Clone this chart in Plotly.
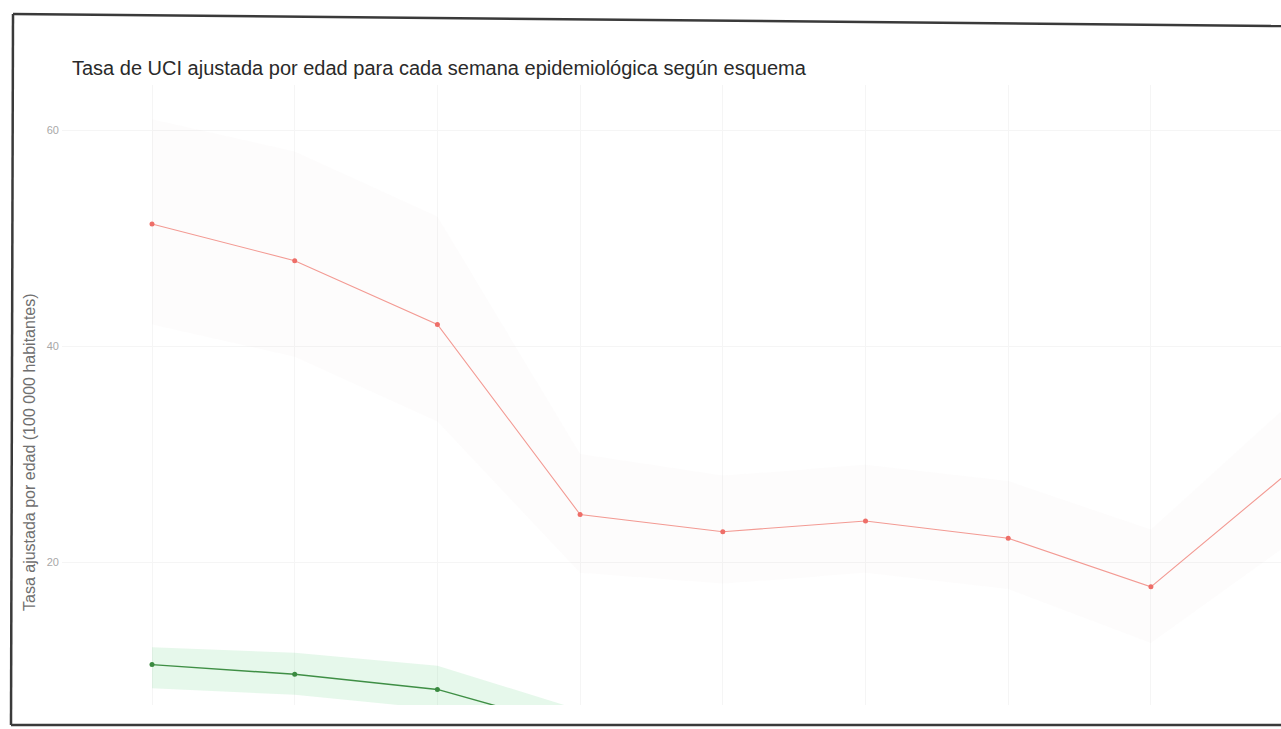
import plotly.graph_objects as go

# ---- data ----
semanas = [1, 2, 3, 4, 5, 6, 7, 8, 9]

tasa_sin = [51.3, 47.9, 42.0, 24.4, 22.8, 23.8, 22.2, 17.7, 28.7]
sin_sup = [61.0, 58.0, 52.0, 30.0, 28.0, 29.0, 27.5, 23.0, 35.0]
sin_inf = [42.0, 39.0, 33.0, 19.0, 18.0, 19.0, 17.5, 12.5, 22.0]

tasa_com = [10.5, 9.6, 8.2, 4.5]
com_sup = [12.1, 11.6, 10.4, 6.3]
com_inf = [8.3, 7.7, 6.4, 3.0]
semanas_com = semanas[:4]

y_ticks = [20, 40, 60]

titulo = "Tasa de UCI ajustada por edad para cada semana epidemiológica según esquema"
y_titulo = "Tasa ajustada por edad (100 000 habitantes)"

# ---- figure ----
W, H = 1281, 729
L, R, T, B = 62, 0, 85, 24
pw, ph = W - L - R, H - T - B


def px(xp):
    return (xp - L) / pw


def py(yp):
    return (H - B - yp) / ph


fig = go.Figure()

# red ribbon (very faint)
fig.add_trace(go.Scatter(x=semanas, y=sin_sup, mode="lines", line=dict(width=0),
                         hoverinfo="skip", showlegend=False))
fig.add_trace(go.Scatter(x=semanas, y=sin_inf, mode="lines", line=dict(width=0),
                         fill="tonexty", fillcolor="rgba(215,200,200,0.05)",
                         hoverinfo="skip", showlegend=False))
# green ribbon
fig.add_trace(go.Scatter(x=semanas_com, y=com_sup, mode="lines", line=dict(width=0),
                         hoverinfo="skip", showlegend=False))
fig.add_trace(go.Scatter(x=semanas_com, y=com_inf, mode="lines", line=dict(width=0),
                         fill="tonexty", fillcolor="rgba(90,205,120,0.15)",
                         hoverinfo="skip", showlegend=False))

fig.add_trace(go.Scatter(x=semanas, y=tasa_sin, mode="lines+markers", name="Sin vacuna",
                         line=dict(color="#F39A93", width=1.1),
                         marker=dict(color="#EE6E68", size=5)))
fig.add_trace(go.Scatter(x=semanas_com, y=tasa_com, mode="lines+markers", name="Esquema completo",
                         line=dict(color="#3F8F45", width=1.4),
                         marker=dict(color="#3A8A40", size=5)))

x0 = 1 - (152 - L) / 142.7
x1 = x0 + pw / 142.7

fig.update_xaxes(range=[x0, x1], showticklabels=False, showgrid=True,
                 gridcolor="#F5F5F5", gridwidth=1, zeroline=False, showline=False,
                 tickvals=semanas, ticks="")
fig.update_yaxes(range=[40 - (705 - 346) / 10.8, 40 + (346 - 85) / 10.8],
                 tickvals=y_ticks, ticktext=[str(v) for v in y_ticks],
                 tickfont=dict(size=11, color="#A8A8A8", family="Liberation Sans"),
                 showgrid=True, gridcolor="#F5F5F5", gridwidth=1, zeroline=False,
                 showline=False, ticks="")

fig.update_layout(
    width=W, height=H,
    margin=dict(l=L, r=R, t=T, b=B, pad=2),
    paper_bgcolor="white", plot_bgcolor="white",
    showlegend=False,
    title=dict(text=titulo, x=72 / W, xanchor="left", y=1 - 68 / H, yanchor="middle",
               font=dict(size=20, color="#2A2A2A", family="Liberation Sans")),
    font=dict(family="Liberation Sans"),
    annotations=[dict(text=y_titulo, textangle=-90, xref="paper", yref="paper",
                      x=px(29), y=py(452), xanchor="center", yanchor="middle",
                      showarrow=False,
                      font=dict(size=16, color="#707070", family="Liberation Sans"))],
    shapes=[
        dict(type="line", xref="paper", yref="paper", x0=px(13), y0=py(14), x1=px(1281), y1=py(26),
             line=dict(color="#3A3A3A", width=2.5), layer="above"),
        dict(type="line", xref="paper", yref="paper", x0=px(13), y0=py(14), x1=px(11), y1=py(725),
             line=dict(color="#3A3A3A", width=2.5), layer="above"),
        dict(type="line", xref="paper", yref="paper", x0=px(11), y0=py(725), x1=px(1281), y1=py(725),
             line=dict(color="#3A3A3A", width=2.5), layer="above"),
    ],
)

fig.write_html("out.html", config={"displayModeBar": False},
               post_script="document.body.style.margin='0';document.body.style.padding='0';")
